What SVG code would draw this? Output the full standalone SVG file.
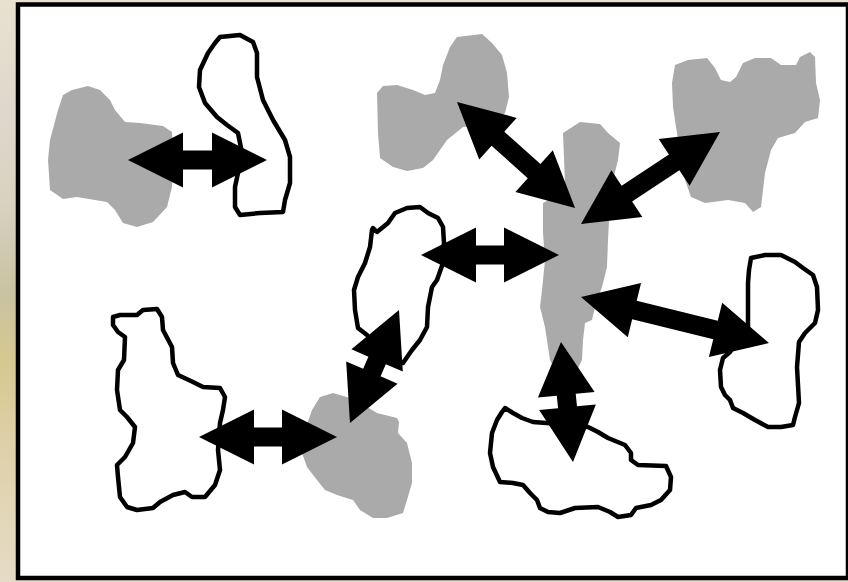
<svg xmlns="http://www.w3.org/2000/svg" width="848" height="582" viewBox="0 0 848 582">
<defs>
<linearGradient id="bg" x1="0" y1="0" x2="0" y2="1">
<stop offset="0" stop-color="#e9e1d0"/>
<stop offset="0.2" stop-color="#ddd8cc"/>
<stop offset="0.35" stop-color="#d8d2c0"/>
<stop offset="0.5" stop-color="#c9c2a2"/>
<stop offset="0.62" stop-color="#d6c890"/>
<stop offset="0.75" stop-color="#ddd0a6"/>
<stop offset="1" stop-color="#e6dcc6"/>
</linearGradient>
<style>
.g{fill:#aaaaaa;stroke:none}
.w{fill:#ffffff;stroke:#000000;stroke-width:4.5;stroke-linejoin:round}
.a{fill:#000000;stroke:none}
</style>
</defs>
<rect x="0" y="0" width="848" height="582" fill="url(#bg)"/>
<rect x="18" y="4.5" width="830" height="573.5" fill="#ffffff" stroke="#000000" stroke-width="4.5"/>

<g id="blob1"><polygon class="g" points="72,90 88,86 100,90 110,100 115,110 125,122 140,123 163,126 172,132 173,157 172,187 167,207 153,222 137,227 123,223 115,210 107,202 77,197 63,199 50,190 48,160 50,140 58,110 63,95"/></g>
<g id="blob2"><polygon class="w" points="220,37 240,35 253,42 257,53 257,77 263,100 273,120 285,140 290,157 290,183 285,200 283,212 260,213 240,215 235,207 235,187 238,173 242,153 238,133 227,125 217,117 205,103 199,87 200,70 208,53 215,43"/></g>
<g id="blob3"><polygon class="g" points="457,37 482,34 492,43 502,55 507,73 509,97 505,113 490,125 463,127 447,140 433,160 423,168 407,171 393,167 380,158 378,133 377,93 383,86 397,85 413,90 425,95 435,93 440,80 443,65 450,47"/></g>
<g id="blob4"><polygon class="g" points="675,65 688,60 707,58 715,68 721,80 730,82 736,77 743,63 755,58 771,58 781,65 796,65 800,57 810,52 815,57 816,83 820,100 818,118 805,122 795,133 778,138 771,150 765,173 761,207 753,212 745,203 728,200 705,203 691,197 685,180 681,157 676,127 673,107 672,83"/></g>
<g id="blob5"><polygon class="g" points="580,122 600,124 608,133 620,143 618,160 613,180 610,203 608,240 607,267 602,287 595,307 592,320 585,323 583,340 582,360 576,372 556,372 550,360 545,327 540,307 542,290 545,260 543,233 543,203 558,195 565,183 563,133"/></g>
<g id="blob6"><polygon class="w" points="373,228 377,232 388,223 395,213 407,208 420,207 428,213 438,218 443,227 444,243 443,263 437,280 432,287 428,307 427,327 420,340 412,350 403,363 380,352 367,335 358,328 355,310 354,290 358,277 365,263 370,247 372,230"/></g>
<g id="blob7"><polygon class="w" points="113,317 120,315 137,315 143,310 157,309 162,317 163,330 172,347 173,363 178,375 193,382 203,387 220,388 225,397 223,410 220,423 218,450 220,470 215,485 205,497 192,497 185,492 173,495 160,502 153,508 137,510 127,507 120,497 118,477 117,465 125,457 133,443 135,427 127,417 120,410 117,390 118,370 124,360 125,337 118,332 113,325"/></g>
<g id="blob8"><polygon class="g" points="320,397 333,393 350,398 367,407 377,413 397,418 399,422 398,433 407,443 412,463 412,483 407,500 403,513 387,518 373,518 360,510 353,500 337,495 325,490 317,480 307,467 302,453 305,430 312,410"/></g>
<g id="blob9"><polygon class="w" points="505,408 513,413 522,418 533,422 560,424 588,427 598,432 608,438 625,445 631,453 631,460 638,465 666,466 671,477 670,490 661,500 651,505 636,508 631,515 618,517 610,512 598,507 575,508 560,513 548,512 540,508 537,500 530,493 523,485 513,483 500,482 493,467 490,453 492,433 497,420 502,412"/></g>
<g id="blob10"><polygon class="w" points="751,258 765,255 781,255 795,262 803,268 813,275 817,287 818,310 815,323 805,333 799,342 797,367 799,403 795,417 793,425 781,427 768,427 755,420 743,413 733,408 730,400 725,395 721,387 720,370 723,358 730,352 748,327 748,283 749,270"/></g>

<g id="connectors">
<polygon class="a" transform="translate(128,160)" points="0,0 55,-27.5 55,-9.5 84,-9.5 84,-27.5 139,0 84,27.5 84,9.5 55,9.5 55,27.5"/>
<polygon class="a" transform="translate(457,102) rotate(41.9)" points="0,0 55,-28 55,-9.5 103.6,-9.5 103.6,-28 158.6,0 103.6,28 103.6,9.5 55,9.5 55,28"/>
<polygon class="a" transform="translate(581,224) rotate(-33.5)" points="0,0 55,-28 55,-9.5 111.7,-9.5 111.7,-28 166.7,0 111.7,28 111.7,9.5 55,9.5 55,28"/>
<polygon class="a" transform="translate(421,255)" points="0,0 55,-27.5 55,-9.5 83,-9.5 83,-27.5 138,0 83,27.5 83,9.5 55,9.5 55,27.5"/>
<polygon class="a" transform="translate(399,310) rotate(113.45)" points="0,0 55,-28 55,-9.5 68.2,-9.5 68.2,-28 123.2,0 68.2,28 68.2,9.5 55,9.5 55,28"/>
<polygon class="a" transform="translate(581,297) rotate(13.75)" points="0,0 55,-28 55,-9.5 138.5,-9.5 138.5,-28 193.5,0 138.5,28 138.5,9.5 55,9.5 55,28"/>
<polygon class="a" transform="translate(199,437)" points="0,0 55,-27.5 55,-9.5 83,-9.5 83,-27.5 138,0 83,27.5 83,9.5 55,9.5 55,27.5"/>
<polygon class="a" transform="translate(561,342) rotate(84.3)" points="0,0 53,-28.5 53,-9.5 65.6,-9.5 65.6,-28.5 120.6,0 65.6,28.5 65.6,9.5 53,9.5 53,28.5"/>
</g>
</svg>
